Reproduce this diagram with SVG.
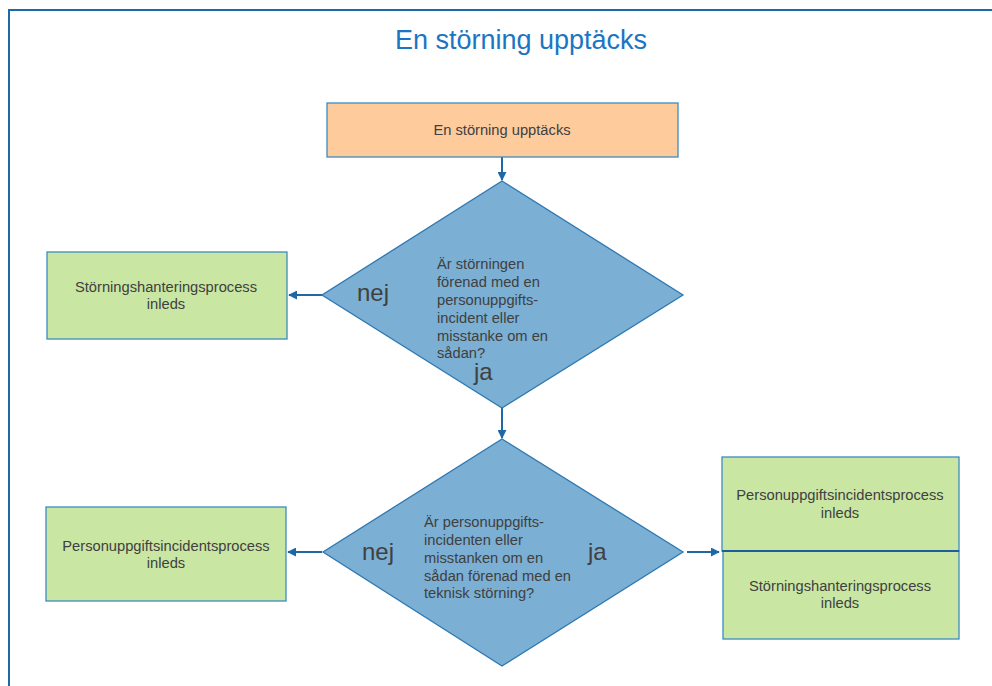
<svg xmlns="http://www.w3.org/2000/svg" width="992" height="686" viewBox="0 0 992 686">
<style>
.t{font-family:"Liberation Sans",Arial,sans-serif;font-size:14.7px;fill:#404040}
.c{text-anchor:middle}
.big{font-family:"Liberation Sans",Arial,sans-serif;font-size:24px;fill:#404040}
.box{fill:#c9e6a3;stroke:#3c8cc2;stroke-width:1.3}
.dia{fill:#7bafd3;stroke:#2e78b2;stroke-width:1.3}
.con{stroke:#1f68a6;stroke-width:2;fill:none;marker-end:url(#ah)}
</style>
<defs>
<marker id="ah" viewBox="0 0 10 10" refX="9" refY="5" markerWidth="4.5" markerHeight="4.5" orient="auto" markerUnits="strokeWidth">
<path d="M0,0 L10,5 L0,10 z" fill="#1f68a6"/>
</marker>
</defs>
<rect width="992" height="686" fill="#ffffff"/>
<rect x="9" y="10" width="1000" height="700" fill="none" stroke="#1f6aa6" stroke-width="2"/>
<text x="521" y="49" font-family="'Liberation Sans',Arial,sans-serif" font-size="27" fill="#1a76c2" text-anchor="middle">En störning upptäcks</text>

<g id="connectors">
<line class="con" x1="502" y1="157" x2="502" y2="180"/>
<line class="con" x1="322" y1="295" x2="289" y2="295"/>
<line class="con" x1="502" y1="408" x2="502" y2="438"/>
<line class="con" x1="322" y1="552" x2="288" y2="552"/>
<line class="con" x1="687" y1="552" x2="719" y2="552"/>
</g>

<g id="start">
<rect x="327" y="103" width="351" height="54" fill="#fecb9d" stroke="#3c8cc2" stroke-width="1.3"/>
<text class="t c" x="502" y="135">En störning upptäcks</text>
</g>

<g id="decision1">
<polygon class="dia" points="502,181 683,295 502,408 322,295"/>
<text class="t" x="437" y="269">Är störningen</text>
<text class="t" x="437" y="287">förenad med en</text>
<text class="t" x="437" y="305">personuppgifts-</text>
<text class="t" x="437" y="323">incident eller</text>
<text class="t" x="437" y="341">misstanke om en</text>
<text class="t" x="437" y="358">sådan?</text>
<text class="big" x="357" y="301">nej</text>
<text class="big" x="474" y="380">ja</text>
</g>

<g id="stor1">
<rect class="box" x="47" y="252" width="240" height="87"/>
<text class="t c" x="166" y="292">Störningshanteringsprocess</text>
<text class="t c" x="166" y="309">inleds</text>
</g>

<g id="decision2">
<polygon class="dia" points="502,439 683,552 502,666 323,552"/>
<text class="t" x="424" y="527">Är personuppgifts-</text>
<text class="t" x="424" y="545">incidenten eller</text>
<text class="t" x="424" y="563">misstanken om en</text>
<text class="t" x="424" y="581">sådan förenad med en</text>
<text class="t" x="424" y="598">teknisk störning?</text>
<text class="big" x="362" y="560">nej</text>
<text class="big" x="588" y="560">ja</text>
</g>

<g id="pers1">
<rect class="box" x="46" y="507" width="240" height="94"/>
<text class="t c" x="166" y="551">Personuppgiftsincidentsprocess</text>
<text class="t c" x="166" y="568">inleds</text>
</g>

<g id="pers2">
<rect class="box" x="722" y="457" width="237" height="94"/>
<text class="t c" x="840" y="500">Personuppgiftsincidentsprocess</text>
<text class="t c" x="840" y="518">inleds</text>
</g>

<g id="stor2">
<rect class="box" x="723" y="551" width="236" height="88"/>
<line x1="722" y1="551" x2="959" y2="551" stroke="#1a5f9c" stroke-width="2"/>
<text class="t c" x="840" y="591">Störningshanteringsprocess</text>
<text class="t c" x="840" y="608">inleds</text>
</g>
</svg>
